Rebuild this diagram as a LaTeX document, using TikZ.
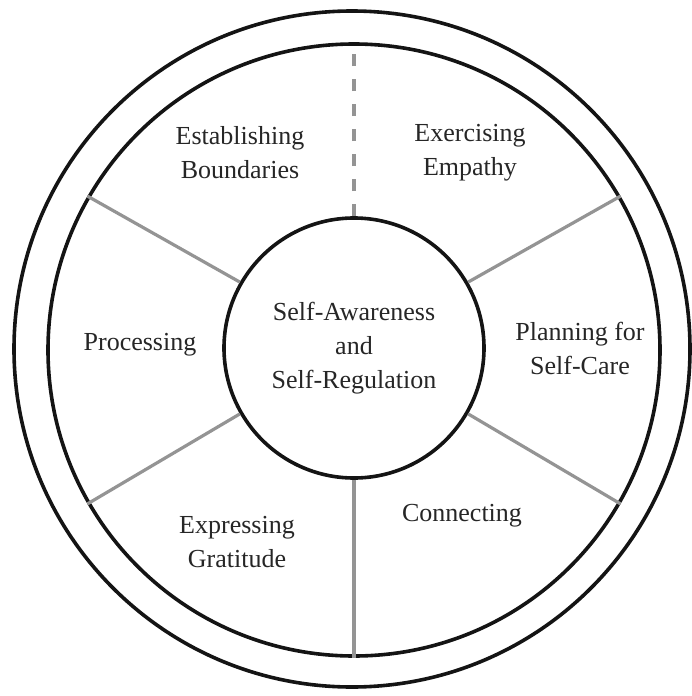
\documentclass[tikz,border=0pt]{standalone}
\usepackage{fontspec}
\setmainfont{Liberation Serif}
\begin{document}
\begin{tikzpicture}[x=1pt,y=-1pt,
  ringline/.style={circle, draw=black!92, line width=3.6pt, inner sep=0pt},
  spoke/.style={draw=black!42, line width=3.2pt},
  dashspoke/.style={spoke, dash pattern=on 12pt off 13pt},
  label/.style={align=center, text=black!85, font=\fontsize{26}{34}\selectfont}]
  \useasboundingbox (0,0) rectangle (691,696);
  % rings
  \node[ringline, minimum size=676pt] (outer) at (352,349) {};
  \node[ringline, minimum size=612pt] (ring) at (354,350) {};
  \node[ringline, minimum size=260pt, label] (hub) at (354,348)
    {Self-Awareness\\and\\Self-Regulation};
  % spokes between hub and ring
  \draw[dashspoke] (hub.90) -- (ring.90);
  \draw[spoke] (hub.30) -- (ring.30);
  \draw[spoke] (hub.330) -- (ring.330);
  \draw[spoke] (hub.270) -- (ring.270);
  \draw[spoke] (hub.210) -- (ring.210);
  \draw[spoke] (hub.150) -- (ring.150);
  % sector labels
  \node[label] (bound) at (240,153) {Establishing\\Boundaries};
  \node[label] (empathy) at (470,153) {Exercising\\Empathy};
  \node[label] (proc) at (140,345) {Processing};
  \node[label] (plan) at (580,348) {Planning for\\Self-Care};
  \node[label] (grat) at (237,542) {Expressing\\Gratitude};
  \node[label] (conn) at (462,516) {Connecting};
\end{tikzpicture}
\end{document}
